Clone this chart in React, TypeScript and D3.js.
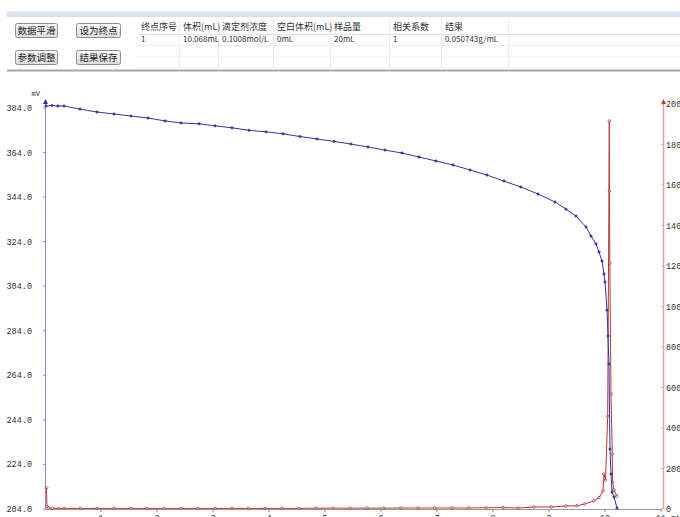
import React from "react";
import * as d3 from "d3";

// ---- data ----
const blueVolume = [0.018, 0.125, 0.232, 0.339, 0.625, 0.929, 1.232, 1.536, 1.839, 2.143, 2.429, 2.75, 3.036, 3.339, 3.643, 3.946, 4.25, 4.554, 4.857, 5.161, 5.464, 5.768, 6.071, 6.375, 6.679, 6.982, 7.286, 7.589, 7.893, 8.196, 8.5, 8.804, 9.107, 9.304, 9.482, 9.661, 9.75, 9.839, 9.893, 9.946, 9.982, 10.0, 10.036, 10.054, 10.071, 10.089, 10.107, 10.125, 10.161, 10.214];
const bluePotential = [384.9, 385.1, 384.9, 384.9, 383.5, 382.2, 381.3, 380.4, 379.5, 378.2, 377.3, 376.9, 376.0, 375.1, 374.0, 373.3, 372.4, 371.2, 370.1, 369.0, 367.8, 366.5, 365.1, 363.8, 362.0, 360.2, 358.4, 356.2, 353.9, 351.2, 348.5, 345.4, 341.8, 338.6, 335.5, 330.6, 326.5, 323.0, 319.4, 315.3, 309.5, 305.9, 293.3, 281.7, 269.1, 230.9, 219.7, 211.6, 209.4, 204.4];

const redVolume = [0.027, 0.035, 0.06, 0.14, 0.24, 0.34, 0.63, 0.93, 1.23, 1.54, 1.82, 2.13, 2.43, 2.73, 3.04, 3.34, 3.63, 3.93, 4.23, 4.54, 4.84, 5.14, 5.45, 5.75, 6.05, 6.36, 6.66, 6.96, 7.27, 7.57, 7.88, 8.18, 8.45, 8.73, 9.04, 9.3, 9.5, 9.64, 9.8, 9.893, 9.964, 9.982, 10.009, 10.048, 10.077, 10.08, 10.086, 10.107, 10.13, 10.136, 10.16, 10.21];
const redDerivative = [105, 12, 5, 3, 3, 3, 3, 3, 3, 3, 3, 3, 3, 3, 3, 3, 3, 3, 3, 3, 4, 4, 4, 4, 4, 5, 5, 5, 5, 5, 6, 7, 5, 10, 10, 15, 16, 25, 40, 56, 89, 173, 143, 459, 1916, 1570, 1215, 568, 272, 133, 94, 64];

const leftTicks = [204, 224, 244, 264, 284, 304, 324, 344, 364, 384];
const rightTicks = [0, 200, 400, 600, 800, 1000, 1200, 1400, 1600, 1800, 2000];
const xTicks = [1, 2, 3, 4, 5, 6, 7, 8, 9, 10, 11];

const buttonLabels = ["数据平滑", "设为终点", "参数调整", "结果保存"];
const tableHeaders = ["终点序号", "体积(mL)", "滴定剂浓度", "空白体积(mL)", "样品量", "相关系数", "结果"];
const tableRow = ["1", "10.068mL", "0.1008mol/L", "0mL", "20mL", "1", "0.050743g/mL"];

// ---- layout ----
const W = 680, H = 517;
const colEdges = [137, 179, 218, 273, 330, 389, 441, 508];
const rowLines = [34.5, 45.5, 57, 68];
const btnPos = [
  { x: 15, y: 23, w: 42 },
  { x: 76, y: 23, w: 44 },
  { x: 15, y: 50, w: 42 },
  { x: 76, y: 50, w: 44 },
];

const CJK = "'Noto Sans CJK SC', 'Noto Sans', sans-serif";
const MONO = "'Liberation Mono', 'DejaVu Sans Mono', monospace";

function diamond(cx: number, cy: number, r: number) {
  return `M${cx},${cy - r}L${cx + r},${cy}L${cx},${cy + r}L${cx - r},${cy}Z`;
}

export default function App() {
  const x = d3.scaleLinear().domain([0, 11]).range([45, 661]);
  const yL = d3.scaleLinear().domain([204, 384]).range([509, 108]);
  const yR = d3.scaleLinear().domain([0, 2000]).range([509, 104]);

  const blue = blueVolume.map((v, i) => [v, bluePotential[i]] as [number, number]);
  const red = redVolume.map((v, i) => [v, redDerivative[i]] as [number, number]);

  const blueLine = d3.line<[number, number]>().x((d) => x(d[0])).y((d) => yL(d[1]))(blue) || "";
  const redLine = d3.line<[number, number]>().x((d) => x(d[0])).y((d) => yR(d[1]))(red) || "";

  const blueCol = "#3236a6";
  const redCol = "#b23a3a";
  const leftAxisCol = "#8c8cd0";
  const rightAxisCol = "#d9a6a6";

  return (
    <svg width={W} height={H} style={{ position: "absolute", left: 0, top: 0, background: "#fff" }}>
      <defs>
        <linearGradient id="band" x1="0" y1="0" x2="0" y2="1">
          <stop offset="0" stopColor="#e6ebf5" />
          <stop offset="1" stopColor="#d5ddee" />
        </linearGradient>
        <linearGradient id="btn" x1="0" y1="0" x2="0" y2="1">
          <stop offset="0" stopColor="#fbfbfb" />
          <stop offset="1" stopColor="#dcdcdc" />
        </linearGradient>
      </defs>
      <rect x={0} y={0} width={W} height={H} fill="#fff" />
      {/* toolbar */}
      <rect x={7} y={11} width={W - 7} height={6} fill="url(#band)" />
      <line x1={7} x2={W} y1={70.5} y2={70.5} stroke="#a5a5a5" strokeWidth={2} />
      {btnPos.map((b, i) => (
        <g key={i}>
          <rect x={b.x + 0.5} y={b.y + 0.5} width={b.w} height={14} rx={2} fill="url(#btn)" stroke="#8d8d8d" />
          <text x={b.x + b.w / 2 + 0.5} y={b.y + 11} textAnchor="middle" fontFamily={CJK} fontSize={9.5} fill="#222">
            {buttonLabels[i]}
          </text>
        </g>
      ))}
      {/* table */}
      {colEdges.slice(1).map((cx, i) => (
        <line key={"c" + i} x1={cx + 0.5} x2={cx + 0.5} y1={18} y2={70} stroke="#ececec" />
      ))}
      {rowLines.map((ry, i) => (
        <line key={"r" + i} x1={colEdges[0]} x2={W} y1={ry} y2={ry} stroke={i === 0 ? "#e4e4e4" : "#efefef"} />
      ))}
      {tableHeaders.map((t, i) => (
        <text key={"h" + i} x={colEdges[i] + 4} y={30} fontFamily={CJK} fontSize={9} fill="#333">
          {t}
        </text>
      ))}
      {tableRow.map((t, i) => (
        <text key={"d" + i} x={colEdges[i] + 4} y={42} fontFamily={CJK} fontSize={8} fill="#333">
          {t}
        </text>
      ))}

      {/* axes */}
      <line x1={45} x2={663} y1={509.5} y2={509.5} stroke="#9a9a9a" />
      <line x1={45.5} x2={45.5} y1={101} y2={509} stroke={leftAxisCol} />
      <path d="M45.5,99 L43,104 L48,104 Z" fill="#2b2fb0" />
      <line x1={663.5} x2={663.5} y1={101} y2={509} stroke={rightAxisCol} strokeWidth={1.5} />
      <path d="M663.5,99 L661,104 L666,104 Z" fill="#c03030" />
      <text x={40} y={96} textAnchor="end" fontFamily={MONO} fontSize={7} fill="#333">mV</text>

      {leftTicks.map((t) => (
        <g key={"l" + t}>
          <line x1={43} x2={45} y1={yL(t)} y2={yL(t)} stroke={leftAxisCol} />
          <text x={32} y={yL(t) + 3} textAnchor="end" fontFamily={MONO} fontSize={8.5} fill="#333">
            {t.toFixed(1)}
          </text>
        </g>
      ))}
      {rightTicks.map((t) => (
        <g key={"rt" + t}>
          <line x1={661} x2={663} y1={yR(t)} y2={yR(t)} stroke={rightAxisCol} />
          <text x={666} y={yR(t) + 3} fontFamily={MONO} fontSize={8.5} fill="#333">
            {t}
          </text>
        </g>
      ))}
      {xTicks.map((t) => (
        <g key={"x" + t}>
          <line x1={x(t)} x2={x(t)} y1={510} y2={512} stroke="#888" />
          <text x={x(t)} y={521} textAnchor="middle" fontFamily={MONO} fontSize={8.5} fill="#333">
            {t}
          </text>
        </g>
      ))}
      <text x={671} y={521} fontFamily={MONO} fontSize={8.5} fill="#333">mL</text>

      {/* series */}
      <path d={redLine} fill="none" stroke={redCol} strokeWidth={1} />
      {red.map((d, i) => (
        <path key={"rm" + i} d={diamond(x(d[0]), yR(d[1]), 1.6)} fill="#fff" fillOpacity={0.3} stroke={redCol} strokeWidth={0.8} />
      ))}
      <path d={blueLine} fill="none" stroke={blueCol} strokeWidth={1} />
      {blue.map((d, i) => (
        <path key={"bm" + i} d={diamond(x(d[0]), yL(d[1]), 1.5)} fill={blueCol} stroke={blueCol} strokeWidth={0.5} />
      ))}
    </svg>
  );
}
